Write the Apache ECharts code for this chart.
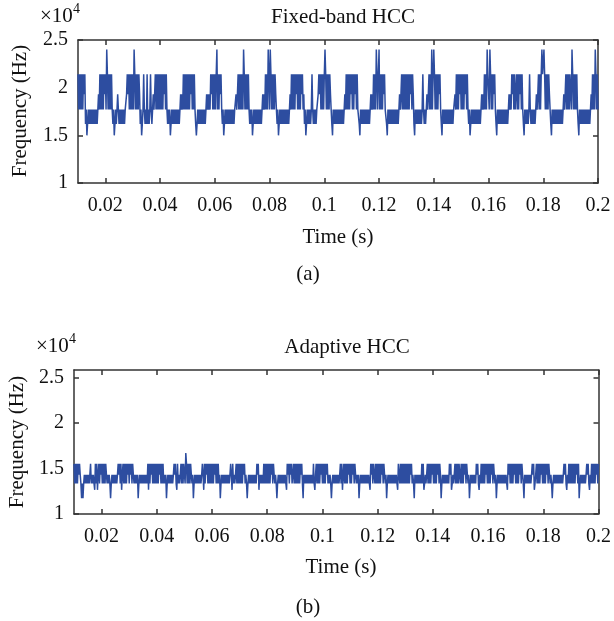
<!DOCTYPE html>
<html><head><meta charset="utf-8">
<script src="https://cdn.jsdelivr.net/npm/echarts@6/dist/echarts.min.js"></script>
<style>html,body{margin:0;padding:0;background:#fff}#c{width:614px;height:621px}</style>
</head><body><div id="c"></div>
<script>
// Tick labels
const timeTicks = [0.02, 0.04, 0.06, 0.08, 0.1, 0.12, 0.14, 0.16, 0.18, 0.2];
const freqTicks = [1, 1.5, 2, 2.5];

// Frequency levels (x10^4 Hz)
const fixedBandLevels = [2.40, 2.14, 1.93, 1.77, 1.62, 1.50];
const adaptiveLevels = [1.67, 1.55, 1.43, 1.335, 1.265, 1.173];

// Sample step (s) and window length (s); one string per 0.01 s window starting at 0.01 s.
const sampleStep = 0.00025;
const windowLen = 0.01;
const startTime = 0.01;

// Level index per sample, read window by window (Fixed-band HCC)
const fixedBandCodes = [
  '13131313121' + '4354343434343434343' + '23' + '13131312',
  '1301313131' + '3' + '4354343234343434343' + '32' + '12131313',
  '1301313131' + '2' + '4354313434143431343' + '232' + '1313131',
  '3131312131' + '3' + '4343543434343434343' + '2323' + '131313',
  '13131213131' + '3454343434343434323' + '2323' + '121313',
  '1310313121' + '34354343434343434343' + '3232' + '131313',
  '1301313131' + '3' + '4343543434343434343' + '2323' + '131301',
  '3013131312' + '3' + '4354343434343434343' + '23' + '13131312',
  '1313131213' + '2' + '4354343434313434343' + '32' + '12131313',
  '1013131312' + '3' + '4534343434343434343' + '23' + '13131312',
  '1313121313' + '3' + '4534343434343434323' + '23' + '13130131',
  '0313131213' + '3' + '4534343434343434343' + '232' + '1313131',
  '3131312131' + '2' + '4534343434343134343' + '232' + '1313031',
  '0131313121' + '3' + '4534343434343434343' + '323' + '1313121',
  '3131312131' + '3' + '4354343434343434343' + '2323' + '131301',
  '1301313121' + '3' + '4534343434343434343' + '2323' + '121313',
  '3131312131' + '3' + '4534343431343434343' + '232' + '1313101',
  '1013131312' + '3' + '4534343434343434343' + '232' + '1313131',
  '1301313131' + '3' + '4534343434343434343' + '23' + '131301313'
];

// Level index per sample, read window by window (Adaptive HCC)
const adaptiveCodes = [
  '131313121' + '23' + '5353232' + '32323' + '21323' + '23' + '41314' + '2' + '1312',
  '13131312' + '32323' + '5' + '3232323232' + '12131' + '4' + '2' + '131313121',
  '312131' + '2323232' + '5' + '3232323232323' + '1' + '4' + '131213' + '13131',
  '3131213131' + '3232' + '5' + '3232323232' + '1213' + '4' + '1' + '3232' + '13131',
  '13013131312' + '32' + '5' + '323232323232' + '12' + '4' + '131' + '2' + '1313131',
  '31312131313' + '2' + '5' + '32323232323232' + '12' + '4' + '13' + '232' + '13131',
  '31313121' + '323' + '5' + '3232323232323' + '121' + '4' + '232323' + '13131',
  '31313121312' + '323' + '5' + '3232323232323' + '4' + '12131213' + '2' + '13',
  '13131313121' + '3' + '5' + '23232323232323' + '13' + '4' + '2' + '131313121',
  '31313121' + '32323' + '5' + '323232323232' + '131' + '4' + '2' + '131313121',
  '31312131' + '23232' + '5' + '323232323232323' + '4' + '12131' + '23' + '131',
  '31313121312' + '32' + '5' + '323232323232323' + '4' + '1' + '23' + '1313131',
  '3131313121' + '323' + '5' + '2323232323' + '131' + '4' + '3232' + '13131312',
  '13131312131' + '2' + '5' + '32323232323' + '121' + '4' + '3232' + '13131312',
  '31313121312' + '32' + '5' + '323232323' + '1213' + '4' + '23' + '1313131213',
  '1313121312' + '32' + '5' + '323232323232323' + '4' + '12' + '131313121',
  '3131312131' + '23' + '5' + '23232323232' + '121' + '4' + '32' + '1313131213',
  '131312131' + '2323' + '5' + '3232323232323232' + '1213' + '4' + '23' + '131',
  '313131312131' + '5' + '3232323232' + '1213' + '4' + '23' + '13131312131'
];

function buildSeries(codes, levels) {
  const pts = [];
  codes.forEach(function (w, k) {
    for (let i = 0; i < w.length; i++) {
      const t = startTime + k * windowLen + i * sampleStep;
      pts.push([Math.round(t * 1e6) / 1e6, levels[+w[i]]]);
    }
  });
  return pts;
}

const FONT = '"Liberation Serif", "DejaVu Serif", serif';
const AX = '#333';
const TXT = '#111';
const LINE = '#2d4da0';
const fmtNum = function (v) { return String(parseFloat((+v).toFixed(2))); };

function xAxes(g) {
  return [
    { gridIndex: g, type: 'value', min: 0.01, max: 0.2, position: 'bottom',
      axisLine: { show: true, onZero: false, lineStyle: { color: AX, width: 1.5 } },
      axisTick: { show: true, inside: true, length: 5, customValues: timeTicks, lineStyle: { color: AX, width: 1.5 } },
      axisLabel: { show: true, customValues: timeTicks, formatter: fmtNum, margin: 13, fontFamily: FONT, fontSize: 20, color: TXT },
      splitLine: { show: false } },
    { gridIndex: g, type: 'value', min: 0.01, max: 0.2, position: 'top',
      axisLine: { show: true, onZero: false, lineStyle: { color: AX, width: 1.5 } },
      axisTick: { show: true, inside: true, length: 5, customValues: timeTicks, lineStyle: { color: AX, width: 1.5 } },
      axisLabel: { show: false }, splitLine: { show: false } }
  ];
}
function yAxes(g, max) {
  return [
    { gridIndex: g, type: 'value', min: 1, max: max, position: 'left',
      axisLine: { show: true, onZero: false, lineStyle: { color: AX, width: 1.5 } },
      axisTick: { show: true, inside: true, length: 5, customValues: freqTicks, lineStyle: { color: AX, width: 1.5 } },
      axisLabel: { show: true, customValues: freqTicks, formatter: fmtNum, margin: 10, fontFamily: FONT, fontSize: 20, color: TXT },
      splitLine: { show: false } },
    { gridIndex: g, type: 'value', min: 1, max: max, position: 'right',
      axisLine: { show: true, onZero: false, lineStyle: { color: AX, width: 1.5 } },
      axisTick: { show: true, inside: true, length: 5, customValues: freqTicks, lineStyle: { color: AX, width: 1.5 } },
      axisLabel: { show: false }, splitLine: { show: false } }
  ];
}

function txt(text, x, y, size, opts) {
  opts = opts || {};
  return { type: 'text', x: x, y: y, rotation: opts.rotation || 0, silent: true,
    style: { text: text, font: size + 'px ' + FONT, fill: TXT, align: opts.align || 'center', verticalAlign: 'middle' } };
}

const chart = echarts.init(document.getElementById('c'), null, { renderer: 'canvas' });
chart.setOption({
  animation: false,
  backgroundColor: '#fff',
  grid: [
    { left: 78, top: 40, width: 520, height: 143, containLabel: false },
    { left: 74, top: 370, width: 530, height: 144, containLabel: false }
  ],
  xAxis: xAxes(0).concat(xAxes(1)),
  yAxis: yAxes(0, 2.5).concat(yAxes(1, 2.58)),
  series: [
    { type: 'line', xAxisIndex: 0, yAxisIndex: 0, data: buildSeries(fixedBandCodes, fixedBandLevels),
      showSymbol: false, symbol: 'none', silent: true, lineStyle: { width: 1.5, color: LINE } },
    { type: 'line', xAxisIndex: 2, yAxisIndex: 2, data: buildSeries(adaptiveCodes, adaptiveLevels),
      showSymbol: false, symbol: 'none', silent: true, lineStyle: { width: 1.5, color: LINE } }
  ],
  graphic: [
    txt('Fixed-band HCC', 343, 17, 21),
    txt('\u00d710', 40, 16, 21, { align: 'left' }),
    txt('4', 73, 9, 14, { align: 'left' }),
    txt('Frequency (Hz)', 20, 111, 21, { rotation: Math.PI / 2 }),
    txt('Time (s)', 338, 237, 21),
    txt('(a)', 308, 274, 21),
    txt('Adaptive HCC', 347, 347, 21),
    txt('\u00d710', 36, 346, 21, { align: 'left' }),
    txt('4', 69, 339, 14, { align: 'left' }),
    txt('Frequency (Hz)', 17, 442, 21, { rotation: Math.PI / 2 }),
    txt('Time (s)', 341, 567, 21),
    txt('(b)', 308, 607, 21)
  ]
});
</script>
</body></html>
